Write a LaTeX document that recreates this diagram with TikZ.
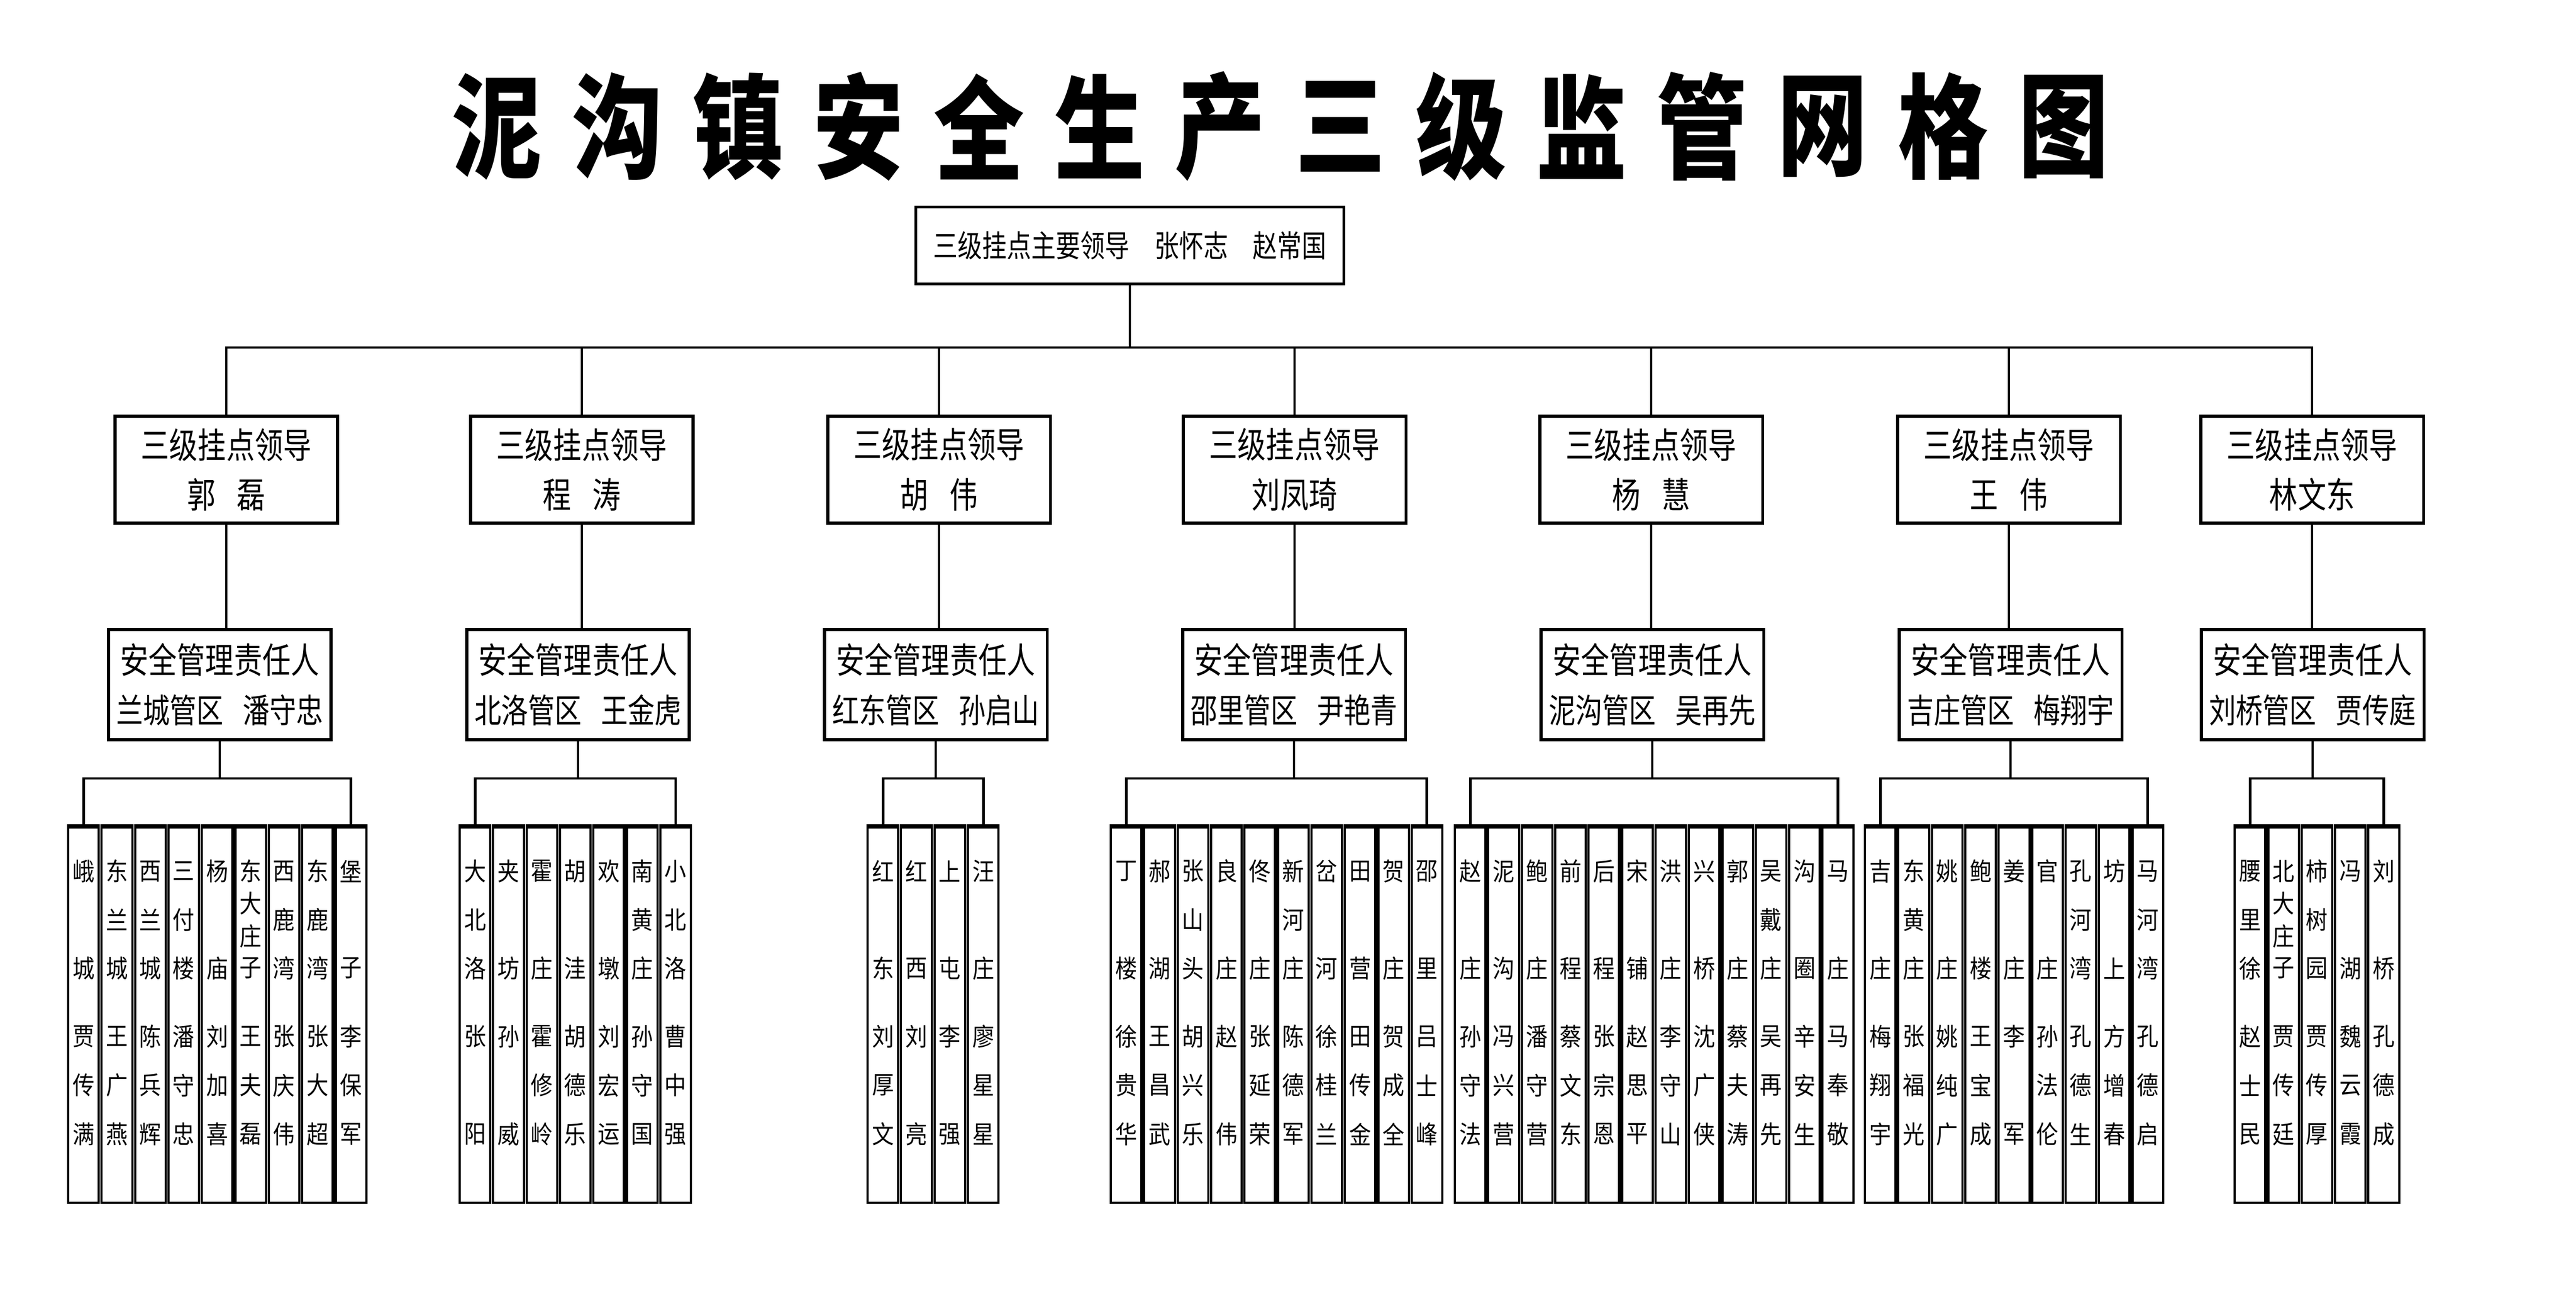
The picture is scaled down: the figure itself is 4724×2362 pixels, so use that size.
\documentclass[tikz,border=0pt]{standalone}
\usepackage{fontspec}
\newfontfamily\cjk{Noto Sans CJK SC}
\newfontfamily\boxfont{Noto Sans CJK SC}[FakeStretch=0.8]
\newfontfamily\colfont{Noto Sans CJK SC}[FakeStretch=0.88]
\newfontfamily\titlefont{Noto Sans CJK SC}[FakeStretch=0.8]

% stack the characters of #2 at x=#1, spread from y=#3 to y=#4
\newcount\chidx
\makeatletter
\newcommand\stackchars[4]{\edef\chlist{#2}%
  \expandafter\stackcharsi\expandafter{\chlist}{#1}{#3}{#4}}
\newcommand\stackcharsi[4]{%
  \global\chidx=0
  \@tfor\colchar:=#1\do{\global\advance\chidx by 1}%
  \edef\nch{\the\chidx}%
  \global\chidx=0
  \@tfor\colchar:=#1\do{%
    \global\advance\chidx by 1
    \node[coltext] at ({#2},{#3+(\the\chidx-1)*(#4-#3)/(\nch-1)}) {\colchar};}%
}
\makeatother

% one row of village columns under a manager box
\newcommand\colgroup[4]{% #1 name, #2 manager node, #3 left x, #4 village/person list
  \foreach \pl/\ps [count=\j] in {#4} {
    \pgfmathsetmacro\cx{#3+28.2+61.3*(\j-1)}
    \node[colbox] (#1-\j) at (\cx,1861) {};
    \draw[line width=2.2pt] (#1-\j.north west) -- (#1-\j.north east);
    \stackchars{\cx}{\pl}{1597}{1775}
    \stackchars{\cx}{\ps}{1900}{2079}
    \xdef\lastcol{\j}
  }
  \coordinate (#1-bus) at (#2.south |- 0,1427);
  \draw[link] (#2.south) -- (#1-bus);
  \draw[bus] (#1-1.north) |- (#1-bus) -| (#1-\lastcol.north);
}

\begin{document}
\begin{tikzpicture}[x=0.01cm,y=-0.01cm,
  titlechar/.style={inner sep=0pt,font=\titlefont\bfseries\fontsize{59pt}{59pt}\selectfont},
  topbox/.style={draw,line width=1.5pt,minimum width=7.85cm,minimum height=1.41cm,
    inner sep=0pt,font=\boxfont\fontsize{16pt}{20pt}\selectfont},
  leadbox/.style={draw,line width=1.5pt,minimum width=4.08cm,minimum height=1.96cm,
    inner sep=0pt,align=center,font=\boxfont\fontsize{18.5pt}{26pt}\selectfont},
  safebox/.style={leadbox,minimum height=2.02cm},
  colbox/.style={draw,line width=1.2pt,minimum width=0.563cm,minimum height=6.88cm,inner sep=0pt},
  coltext/.style={inner sep=0pt,font=\colfont\fontsize{13pt}{14pt}\selectfont},
  link/.style={line width=1pt},
  bus/.style={line width=1.4pt}]

  \useasboundingbox (0,0) rectangle (4724,2362);

  % title
  \foreach \c [count=\i] in {泥,沟,镇,安,全,生,产,三,级,监,管,网,格,图}
    \node[titlechar] (t\i) at ({911+221*(\i-1)},232) {\c};

  \node[topbox] (top) at (2072,450) {三级挂点主要领导\hspace{13pt}张怀志\hspace{13pt}赵常国};

  % leaders
  \foreach \n/\x/\who in {a/415/{郭\hspace{11pt}磊},b/1067/{程\hspace{11pt}涛},
      c/1722/{胡\hspace{11pt}伟},d/2374/刘凤琦,e/3028/{杨\hspace{11pt}慧},
      f/3684/{王\hspace{11pt}伟},g/4240/林文东}
    \node[leadbox] (l2\n) at (\x,861) {三级挂点领导\\\who};

  % safety managers
  \foreach \n/\x/\area/\who in {a/403/兰城管区/潘守忠,b/1060/北洛管区/王金虎,
      c/1716/红东管区/孙启山,d/2373/邵里管区/尹艳青,e/3030/泥沟管区/吴再先,
      f/3687/吉庄管区/梅翔宇,g/4241/刘桥管区/贾传庭}
    \node[safebox] (l3\n) at (\x,1255)
      {安全管理责任人\\{\fontsize{17.5pt}{26pt}\selectfont\area\hspace{10pt}\who}};

  % connectors
  \coordinate (hub) at (top.south |- 0,637);
  \draw[link] (top.south) -- (hub);
  \draw[link] (l2a.north) |- (hub) -| (l2g.north);
  \foreach \n in {b,c,d,e,f}
    \draw[link] (l2\n.north) -- (l2\n.north |- hub);
  \foreach \n in {a,b,c,d,e,f,g}
    \draw[link] (l2\n.south) -- (l2\n.south |- l3\n.north);

  % village columns
  \colgroup{g1}{l3a}{125}{峨城/贾传满,东兰城/王广燕,西兰城/陈兵辉,三付楼/潘守忠,杨庙/刘加喜,
    东大庄子/王夫磊,西鹿湾/张庆伟,东鹿湾/张大超,堡子/李保军}
  \colgroup{g2}{l3b}{843}{大北洛/张阳,夹坊/孙威,霍庄/霍修岭,胡洼/胡德乐,欢墩/刘宏运,
    南黄庄/孙守国,小北洛/曹中强}
  \colgroup{g3}{l3c}{1591}{红东/刘厚文,红西/刘亮,上屯/李强,汪庄/廖星星}
  \colgroup{g4}{l3d}{2037}{丁楼/徐贵华,郝湖/王昌武,张山头/胡兴乐,良庄/赵伟,佟庄/张延荣,
    新河庄/陈德军,岔河/徐桂兰,田营/田传金,贺庄/贺成全,邵里/吕士峰}
  \colgroup{g5}{l3e}{2668}{赵庄/孙守法,泥沟/冯兴营,鲍庄/潘守营,前程/蔡文东,后程/张宗恩,
    宋铺/赵思平,洪庄/李守山,兴桥/沈广侠,郭庄/蔡夫涛,吴戴庄/吴再先,沟圈/辛安生,马庄/马奉敬}
  \colgroup{g6}{l3f}{3420}{吉庄/梅翔宇,东黄庄/张福光,姚庄/姚纯广,鲍楼/王宝成,姜庄/李军,
    官庄/孙法伦,孔河湾/孔德生,坊上/方增春,马河湾/孔德启}
  \colgroup{g7}{l3g}{4098}{腰里徐/赵士民,北大庄子/贾传廷,柿树园/贾传厚,冯湖/魏云霞,刘桥/孔德成}

\end{tikzpicture}
\end{document}
